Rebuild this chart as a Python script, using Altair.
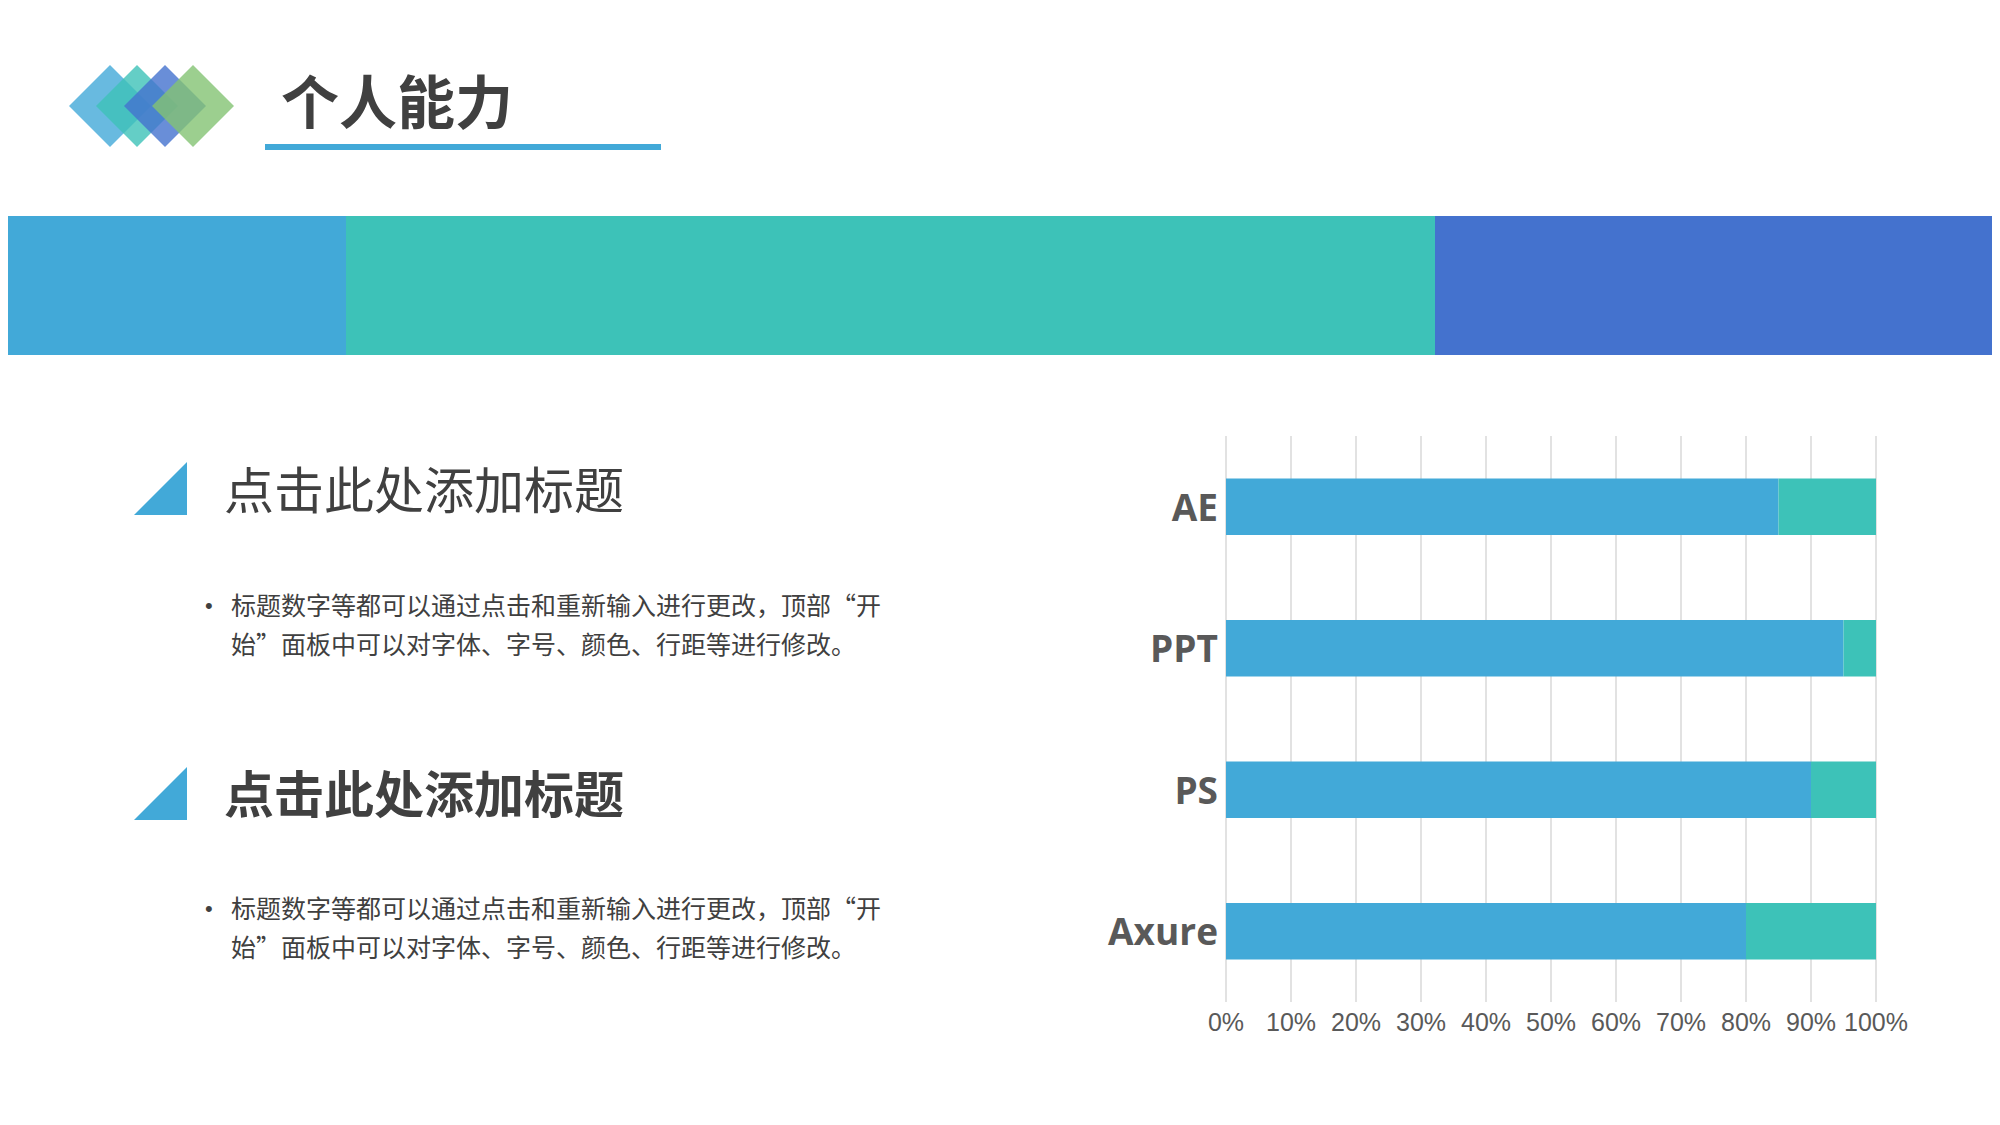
import altair as alt
import pandas as pd

# chart data
skills = ['AE', 'PPT', 'PS', 'Axure']
level = [0.85, 0.95, 0.90, 0.80]
rest = [0.15, 0.05, 0.10, 0.20]
ticks = [0, 0.1, 0.2, 0.3, 0.4, 0.5, 0.6, 0.7, 0.8, 0.9, 1.0]

# slide texts
page_title = '个人能力'
heading = '点击此处添加标题'
body = ['标题数字等都可以通过点击和重新输入进行更改，顶部“开',
        '始”面板中可以对字体、字号、颜色、行距等进行修改。']

BLUE = '#42A9D8'
TEAL = '#3DC2B8'
ROYAL = '#4472CE'
GREEN = '#83C373'
DARK = '#404040'
GREY = '#595959'
CJK = 'Noto Sans CJK SC'

bars = pd.DataFrame({
    'skill': skills * 2,
    'part': ['掌握'] * len(skills) + ['其余'] * len(skills),
    'order': [0] * len(skills) + [1] * len(skills),
    'value': level + rest,
})
grid = pd.DataFrame({'tick': ticks})
names = pd.DataFrame({'skill': skills})
one = pd.DataFrame({'k': [0]})

x_scale = alt.Scale(domain=[0, 1], range=[1218, 1868], nice=False)
y_scale = alt.Scale(domain=skills, range=[428, 994],
                    paddingInner=0.6, paddingOuter=0.3)


def box(x, x2, y, y2, color):
    return alt.Chart(one).mark_rect(color=color).encode(
        x=alt.value(x), x2=alt.value(x2), y=alt.value(y), y2=alt.value(y2))


def label(text, x, y, size, weight='normal', color=DARK, font=CJK, align='left'):
    return alt.Chart(one).mark_text(
        text=text, align=align, baseline='middle', font=font,
        fontSize=size, fontWeight=weight, color=color
    ).encode(x=alt.value(x), y=alt.value(y))


def diamond(x, color):
    return alt.Chart(one).mark_point(
        shape='diamond', filled=True, size=6724, opacity=0.8,
        color=color, strokeWidth=0
    ).encode(x=alt.value(x), y=alt.value(98))


def corner(y):
    return alt.Chart(one).mark_point(
        shape='M1,-1L1,1L-1,1Z', filled=True, size=2809, opacity=1,
        color=BLUE, strokeWidth=0
    ).encode(x=alt.value(152.5), y=alt.value(y))


# header
bands = box(0, 338, 208, 347, BLUE) + box(338, 1427, 208, 347, TEAL) + \
    box(1427, 1984, 208, 347, ROYAL)
logo = diamond(102, BLUE) + diamond(129, TEAL) + diamond(157, ROYAL) + \
    diamond(185, GREEN)
title = label(page_title, 273, 99, 58, 'bold') + box(257, 653, 136, 142, BLUE)

# left text blocks
left = corner(480.5) + corner(785.5) + \
    label(heading, 216, 486, 50) + label(heading, 216, 790, 50, 'bold') + \
    label('•', 197, 598, 22, font='Liberation Sans') + \
    label(body[0], 223, 599, 25) + label(body[1], 223, 638, 25) + \
    label('•', 197, 901, 22, font='Liberation Sans') + \
    label(body[0], 223, 902, 25) + label(body[1], 223, 941, 25)

# bar chart
rules = alt.Chart(grid).mark_rule(color='#D9D9D9', strokeWidth=1.5).encode(
    x=alt.X('tick:Q', scale=x_scale, axis=None),
    y=alt.value(428), y2=alt.value(994)
)
tick_text = alt.Chart(grid).mark_text(
    font='Liberation Sans', fontSize=25, color=GREY, baseline='middle'
).encode(
    x=alt.X('tick:Q', scale=x_scale, axis=None),
    y=alt.value(1015),
    text=alt.Text('tick:Q', format='.0%')
)
stack = alt.Chart(bars).mark_bar().encode(
    x=alt.X('value:Q', stack='zero', scale=x_scale, axis=None),
    y=alt.Y('skill:N', sort=skills, scale=y_scale, axis=None),
    color=alt.Color('part:N', scale=alt.Scale(domain=['掌握', '其余'],
                                              range=[BLUE, TEAL]), legend=None),
    order=alt.Order('order:Q')
)
skill_text = alt.Chart(names).mark_text(
    font='Open Sans', fontSize=37, fontWeight='bold', color=GREY,
    align='right', baseline='middle', dy=3
).encode(
    x=alt.value(1210),
    y=alt.Y('skill:N', sort=skills, scale=y_scale, axis=None),
    text='skill:N'
)

chart = alt.layer(
    bands, logo, title, left, rules, stack, tick_text, skill_text
).properties(
    width=1984, height=1109, padding=0, autosize='none', background='white'
).configure_view(stroke=None)

chart.save("out.html", embed_options={"renderer": "svg", "actions": False})
